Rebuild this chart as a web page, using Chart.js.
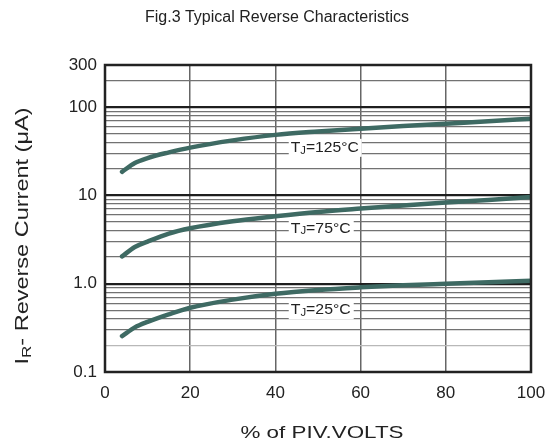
<!DOCTYPE html>
<html>
<head>
<meta charset="utf-8">
<script src="https://cdn.jsdelivr.net/npm/chart.js@4"></script>
<style>
  html, body { margin: 0; padding: 0; background: #fff; }
  canvas { display: block; }
</style>
</head>
<body>
<canvas id="revChart" width="553" height="446"></canvas>
<script>
// % of PIV volts
const pivPercent = [4, 7, 10, 15, 20, 30, 40, 50, 60, 70, 80, 90, 100];

// reverse current in uA
const current125 = [18.5, 23.3, 26.5, 30.7, 34.8, 42, 48.5, 53, 57, 61, 65, 69, 74];
const current75 = [2.04, 2.6, 3.0, 3.7, 4.25, 5.1, 5.8, 6.5, 7.1, 7.7, 8.3, 8.9, 9.6];
const current25 = [0.255, 0.32, 0.37, 0.45, 0.535, 0.66, 0.77, 0.85, 0.91, 0.96, 1.0, 1.04, 1.08];

const curveNames = ['125°C', '75°C', '25°C'];

// log grid values and which ones get a label
const yGridValues = [0.1, 0.2, 0.3, 0.4, 0.5, 0.6, 0.7, 0.8, 0.9,
  1, 2, 3, 4, 5, 6, 7, 8, 9,
  10, 20, 30, 40, 50, 60, 70, 80, 90,
  100, 200, 300];
const yTickLabels = { 0.1: '0.1', 1: '1.0', 10: '10', 100: '100', 300: '300' };
const xTickValues = [0, 20, 40, 60, 80, 100];

// where the TJ tags sit (data coords)
const tagX = 43.6;
const tagY = [34.6, 4.2, 0.5];

const CURVE_COLOR = '#3e6a63';
const INK = '#222';
const FONT = '"Liberation Sans", Arial, sans-serif';

function toPoints(ys) {
  return pivPercent.map((x, i) => ({ x: x, y: ys[i] }));
}

function curveSet(ys) {
  return {
    data: toPoints(ys),
    borderColor: CURVE_COLOR,
    borderWidth: 4.5,
    borderCapStyle: 'round',
    pointRadius: 0,
    fill: false,
    cubicInterpolationMode: 'monotone'
  };
}

// draws runs of [text, size, dy] centred on 0,0, optionally stretched to a width
function drawRuns(ctx, runs, targetW) {
  let w = 0;
  runs.forEach(r => {
    ctx.font = r[1] + 'px ' + FONT;
    r.w = ctx.measureText(r[0]).width;
    w += r.w;
  });
  const k = targetW ? targetW / w : 1;
  ctx.save();
  ctx.scale(k, 1);
  let x = -w / 2;
  runs.forEach(r => {
    ctx.font = r[1] + 'px ' + FONT;
    ctx.fillText(r[0], x, r[2]);
    x += r.w;
  });
  ctx.restore();
}

// frame, tags, title and the subscripted y title
const decorPlugin = {
  id: 'decor',
  afterDatasetsDraw(chart) {
    const ctx = chart.ctx;
    const a = chart.chartArea;
    const xs = chart.scales.x;
    const ys = chart.scales.y;
    ctx.save();
    ctx.textBaseline = 'middle';
    ctx.textAlign = 'left';

    // tags
    curveNames.forEach((name, i) => {
      const px = xs.getPixelForValue(tagX);
      const py = ys.getPixelForValue(tagY[i]);
      const tw = name.length > 4 ? 68 : 60;
      ctx.fillStyle = '#fff';
      ctx.fillRect(px - 2, py - 9, tw + 5, 18);
      ctx.fillStyle = INK;
      ctx.save();
      ctx.translate(px + tw / 2, py);
      drawRuns(ctx, [['T', 14, 0], ['J', 10, 3], ['=' + name, 14, 0]], tw);
      ctx.restore();
    });

    // frame
    ctx.strokeStyle = INK;
    ctx.lineWidth = 2.5;
    ctx.strokeRect(a.left, a.top, a.right - a.left, a.bottom - a.top);

    ctx.fillStyle = INK;

    // chart title
    ctx.save();
    ctx.translate(277, 18);
    drawRuns(ctx, [['Fig.3 Typical Reverse Characteristics', 16, 0]], 0);
    ctx.restore();

    // x title
    ctx.save();
    ctx.translate(322, 433);
    drawRuns(ctx, [['% of PIV.VOLTS', 17, 0]], 163);
    ctx.restore();

    // y title with subscript R
    ctx.save();
    ctx.translate(23, 236);
    ctx.rotate(-Math.PI / 2);
    drawRuns(ctx, [['I', 18, 0], ['R', 13, 4], ['- Reverse Current (\u03bcA)', 18, 0]], 257);
    ctx.restore();

    ctx.restore();
  }
};

function isMajor(v) {
  return v === 1 || v === 10 || v === 100;
}

function yGridColor(ctx) {
  const v = ctx.tick ? ctx.tick.value : null;
  if (isMajor(v)) return '#1e1e1e';
  if (Math.abs(v - 0.2) < 1e-9) return '#b8b8b8';
  return '#727272';
}

function yGridWidth(ctx) {
  const v = ctx.tick ? ctx.tick.value : null;
  return isMajor(v) ? 2.2 : 1.3;
}

new Chart(document.getElementById('revChart'), {
  type: 'line',
  data: {
    datasets: [curveSet(current125), curveSet(current75), curveSet(current25)]
  },
  options: {
    responsive: false,
    animation: false,
    layout: { padding: { top: 65, right: 22, left: 0, bottom: 0 } },
    plugins: {
      legend: { display: false },
      tooltip: { enabled: false }
    },
    scales: {
      x: {
        type: 'linear',
        min: 0,
        max: 100,
        afterBuildTicks(scale) {
          scale.ticks = xTickValues.map(v => ({ value: v }));
        },
        afterFit(scale) {
          scale.height = 446 - 372;
          scale.paddingLeft = 0;
          scale.paddingRight = 0;
        },
        grid: { color: '#666', lineWidth: 1.5, drawTicks: false },
        border: { display: false },
        ticks: {
          color: INK,
          padding: 11,
          maxRotation: 0,
          font: { family: FONT, size: 17 }
        }
      },
      y: {
        type: 'logarithmic',
        min: 0.1,
        max: 300,
        afterBuildTicks(scale) {
          scale.ticks = yGridValues.map(v => ({ value: v }));
        },
        afterFit(scale) {
          scale.width = 105;
          scale.paddingTop = 0;
          scale.paddingBottom = 0;
        },
        grid: { color: yGridColor, lineWidth: yGridWidth, drawTicks: false },
        border: { display: false },
        ticks: {
          color: INK,
          padding: 8,
          autoSkip: false,
          font: { family: FONT, size: 17 },
          callback(value) {
            return yTickLabels[value] !== undefined ? yTickLabels[value] : '';
          }
        }
      }
    }
  },
  plugins: [decorPlugin]
});
</script>
</body>
</html>
